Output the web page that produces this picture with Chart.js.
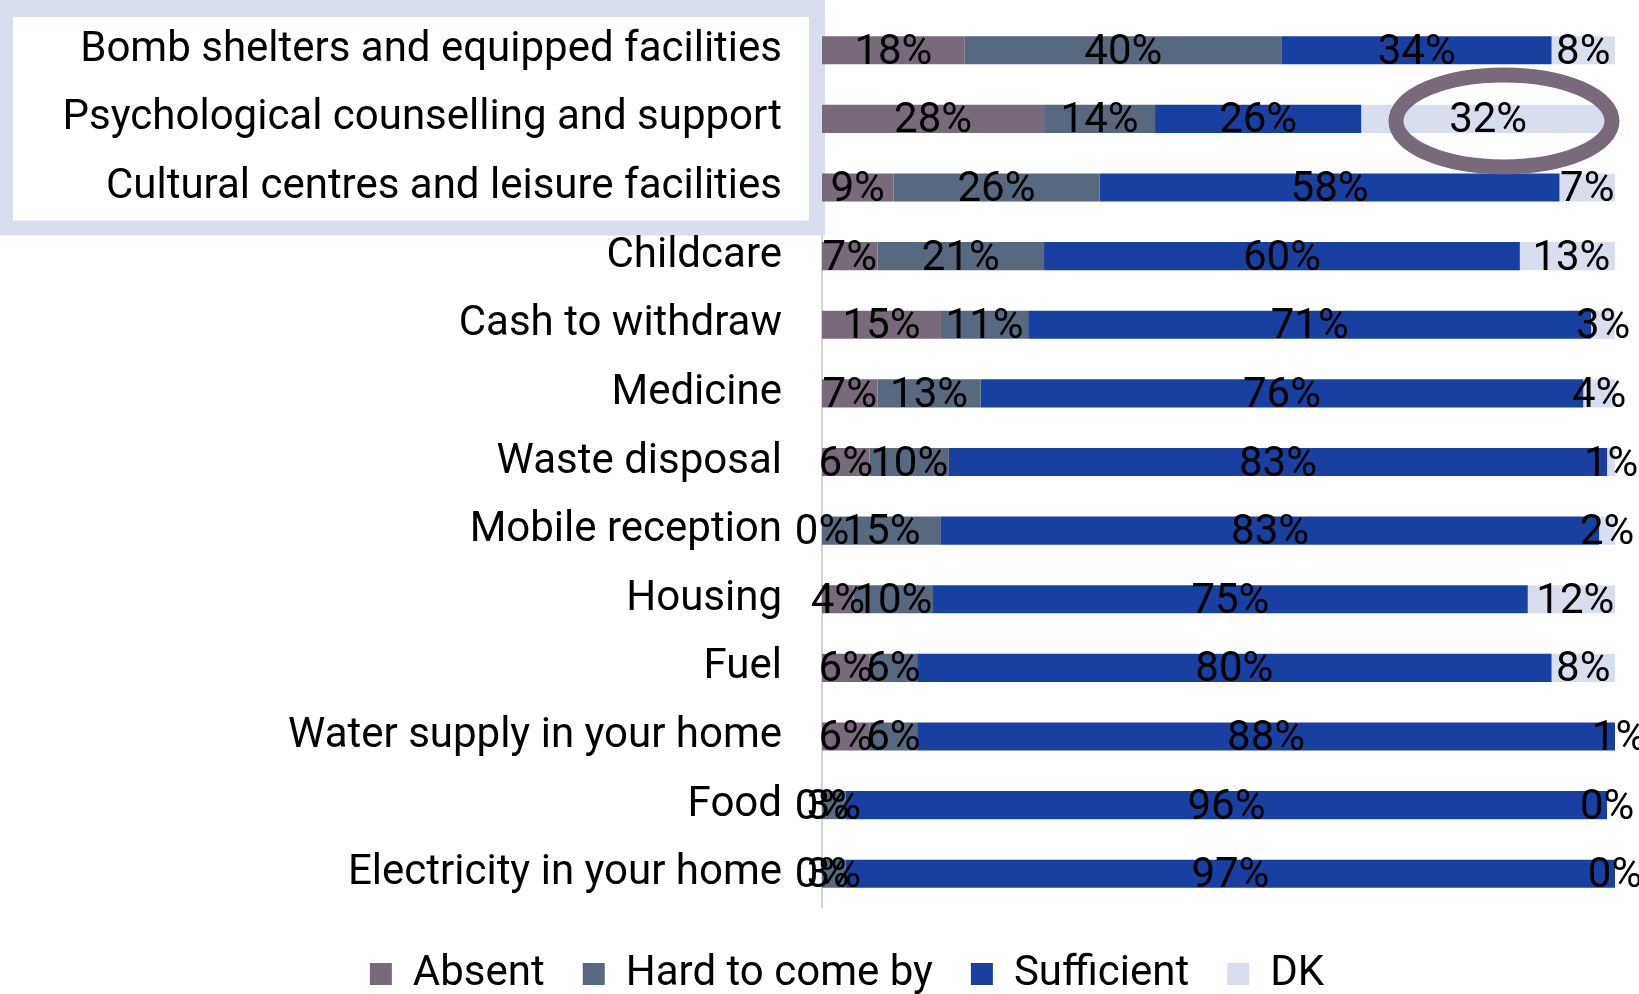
<!DOCTYPE html>
<html lang="en">
<head>
    <meta charset="UTF-8">
    <title>Availability of services</title>
    <script src="https://cdn.jsdelivr.net/npm/chart.js"></script>
    <style>
        body {
            margin: 0;
            background-color: #fff;
        }
        #wrap {
            width: 1639px;
            height: 994px;
            position: relative;
        }
    </style>
</head>
<body>
    <div id="wrap"><canvas id="servicesChart"></canvas></div>

    <script>
        const categories = [
            'Bomb shelters and equipped facilities',
            'Psychological counselling and support',
            'Cultural centres and leisure facilities',
            'Childcare',
            'Cash to withdraw',
            'Medicine',
            'Waste disposal',
            'Mobile reception',
            'Housing',
            'Fuel',
            'Water supply in your home',
            'Food',
            'Electricity in your home'
        ];

        const absent       = [18, 28,  9,  7, 15,  7,  6,  0,  4,  6,  6,  0,  0];
        const hardToComeBy = [40, 14, 26, 21, 11, 13, 10, 15, 10,  6,  6,  3,  3];
        const sufficient   = [34, 26, 58, 60, 71, 76, 83, 83, 75, 80, 88, 96, 97];
        const dontKnow     = [ 8, 32,  7, 13,  3,  4,  1,  2, 12,  8,  1,  0,  0];

        const seriesNames  = ['Absent', 'Hard to come by', 'Sufficient', 'DK'];
        const seriesColors = ['#786a7b', '#58687f', '#1740a0', '#d9deef'];

        const FONT_SIZE = 42;

        // axis line + light frame behind the first three category names
        const backdropPlugin = {
            id: 'backdrop',
            beforeDraw(chart) {
                const ctx = chart.ctx;
                const area = chart.chartArea;
                const y = chart.scales.y;
                ctx.save();
                ctx.strokeStyle = '#d4d4d4';
                ctx.lineWidth = 2;
                ctx.beginPath();
                ctx.moveTo(area.left, area.top);
                ctx.lineTo(area.left, area.bottom);
                ctx.stroke();

                const bottom = y.getPixelForValue(2) + 48;
                const right = area.left + 3;
                ctx.fillStyle = '#d9deef';
                ctx.fillRect(0, 0, right, bottom);
                ctx.fillStyle = '#fff';
                ctx.fillRect(13, 17, right - 29, bottom - 32);
                ctx.restore();
            }
        };

        // nudge the legend: a bit right of the canvas centre and a little lower
        const legendPlacement = {
            id: 'legendPlacement',
            afterLayout(chart) {
                const lg = chart.legend;
                lg.left = 79;
                lg.width = lg.right - lg.left;
                lg.top += 7;
                lg.bottom += 7;
            }
        };

        // value labels centred on every segment
        const segmentLabels = {
            id: 'segmentLabels',
            afterDatasetsDraw(chart) {
                const ctx = chart.ctx;
                ctx.save();
                ctx.font = FONT_SIZE + 'px Roboto';
                ctx.fillStyle = '#000';
                ctx.textAlign = 'center';
                ctx.textBaseline = 'middle';
                chart.data.datasets.forEach((ds, i) => {
                    chart.getDatasetMeta(i).data.forEach((bar, j) => {
                        const p = bar.getCenterPoint();
                        ctx.fillText(ds.data[j] + '%', p.x, p.y + 3);
                    });
                });
                ctx.restore();
            }
        };

        // ring around the DK share for psychological support
        const ringPlugin = {
            id: 'ring',
            afterDraw(chart) {
                const ctx = chart.ctx;
                const cx = chart.scales.x.getPixelForValue(86);
                const cy = chart.scales.y.getPixelForValue(1);
                ctx.save();
                ctx.strokeStyle = '#786a7b';
                ctx.lineWidth = 15;
                ctx.beginPath();
                ctx.ellipse(cx, cy + 2, 108, 46, 0, 0, Math.PI * 2);
                ctx.stroke();
                ctx.restore();
            }
        };

        Chart.defaults.font.family = 'Roboto';
        Chart.defaults.color = '#000';

        const datasets = [absent, hardToComeBy, sufficient, dontKnow].map((values, i) => ({
            label: seriesNames[i],
            data: values,
            backgroundColor: seriesColors[i],
            borderWidth: 0,
            barPercentage: 0.41,
            categoryPercentage: 1
        }));

        new Chart(document.getElementById('servicesChart'), {
            type: 'bar',
            data: { labels: categories, datasets },
            options: {
                indexAxis: 'y',
                responsive: true,
                maintainAspectRatio: false,
                animation: false,
                layout: {
                    padding: { top: 16, left: 20, right: 24, bottom: 0 }
                },
                scales: {
                    x: {
                        stacked: true,
                        display: false,
                        min: 0,
                        max: 100
                    },
                    y: {
                        stacked: true,
                        grid: { display: false, drawTicks: false },
                        border: { display: false },
                        ticks: {
                            font: { size: FONT_SIZE },
                            color: '#000',
                            padding: 40
                        },
                        afterFit(scale) {
                            scale.width = 802;
                            scale.paddingTop = 0;
                            scale.paddingBottom = 0;
                        }
                    }
                },
                plugins: {
                    legend: {
                        position: 'bottom',
                        maxHeight: 86,
                        labels: {
                            font: { size: FONT_SIZE },
                            color: '#000',
                            boxWidth: 22,
                            boxHeight: 22,
                            padding: 38
                        }
                    },
                    tooltip: { enabled: false }
                }
            },
            plugins: [backdropPlugin, legendPlacement, segmentLabels, ringPlugin]
        });
    </script>
</body>
</html>
